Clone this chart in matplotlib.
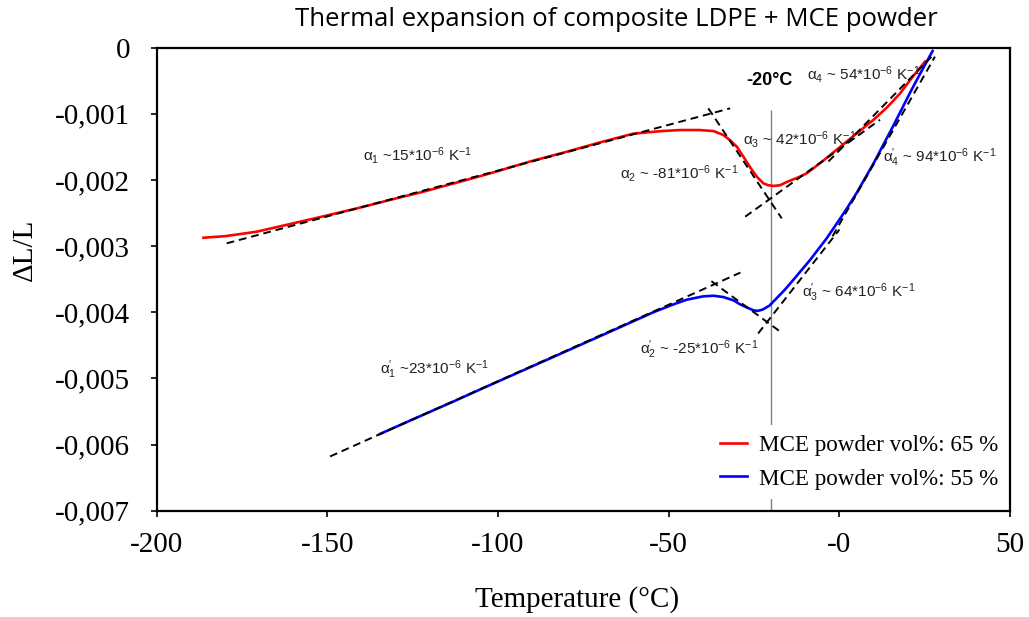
import numpy as np
import matplotlib
matplotlib.use("Agg")
import matplotlib.pyplot as plt

plt.rcParams['font.family'] = ['Liberation Serif', 'DejaVu Serif']
plt.rcParams['mathtext.fontset'] = 'custom'
plt.rcParams['mathtext.rm'] = 'Liberation Sans'
plt.rcParams['mathtext.it'] = 'Liberation Sans:italic'
plt.rcParams['mathtext.bf'] = 'Liberation Sans:bold'

# curves (y in units of 1e-3)
temp_65 = [-186.3, -180, -170.7, -160.9, -150, -141.4, -130, -121.9, -110, -102.3,
           -90.6, -80, -70, -60.4, -52, -46.7, -41, -36.9, -34, -32, -30, -28.1,
           -26, -24.2, -22.3, -20.8, -19.3, -17.4, -15.4, -12, -9.6, -5, 0.2, 5,
           10, 14, 17.8, 21, 25.1]
dl_65 = [-2.873, -2.85, -2.782, -2.666, -2.535, -2.43, -2.28, -2.177, -2.01, -1.90,
         -1.72, -1.575, -1.43, -1.30, -1.26, -1.245, -1.245, -1.26, -1.32, -1.40,
         -1.50, -1.65, -1.82, -1.95, -2.05, -2.08, -2.09, -2.08, -2.03, -1.96,
         -1.90, -1.72, -1.50, -1.30, -1.09, -0.90, -0.69, -0.47, -0.21]

temp_55 = [-134.6, -125, -113.1, -104.3, -93.6, -84, -74, -64, -54.5, -48.6, -44.7,
           -40, -36.9, -34, -31, -29.1, -27, -25.2, -24, -22.5, -20.5, -18.8, -16,
           -13.5, -8.6, -3.7, 0, 2.2, 5, 10, 15.8, 20.7, 24, 27.3]
dl_55 = [-5.84, -5.62, -5.35, -5.145, -4.90, -4.68, -4.45, -4.22, -4.00, -3.88, -3.81,
         -3.76, -3.75, -3.77, -3.82, -3.88, -3.93, -3.97, -3.98, -3.96, -3.90, -3.81,
         -3.66, -3.51, -3.21, -2.88, -2.60, -2.43, -2.20, -1.75, -1.18, -0.68, -0.36,
         -0.05]

# tangent segments: (x0, y0, x1, y1), y in 1e-3
tangents = [
    (-179.5, -2.958, -32.0, -0.917),
    (-38.4, -0.917, -16.9, -2.58),
    (-27.6, -2.555, 11.9, -1.09),
    (-3.2, -1.72, 27.5, -0.11),
    (-149.2, -6.18, -29.0, -3.40),
    (-37.5, -3.53, -17.4, -4.29),
    (-23.8, -4.32, 0.0, -2.75),
    (-2.0, -2.85, 28.0, -0.135),
]

labels_alpha = [
    (-139.5, -1.625, "α$_1$ ~15*10$^{-6}$ K$^{-1}$"),
    (-64.3, -1.90, "α$_2$ ~ -81*10$^{-6}$ K$^{-1}$"),
    (-28.1, -1.395, "α$_3$ ~ 42*10$^{-6}$ K$^{-1}$"),
    (-9.5, -0.40, "α$_4$ ~ 54*10$^{-6}$ K$^{-1}$"),
    (12.9, -1.67, "α$_4^{\\prime}$ ~ 94*10$^{-6}$ K$^{-1}$"),
    (-11.0, -3.71, "α$_3^{\\prime}$ ~ 64*10$^{-6}$ K$^{-1}$"),
    (-58.4, -4.57, "α$_2^{\\prime}$ ~ -25*10$^{-6}$ K$^{-1}$"),
    (-134.5, -4.875, "α$_1^{\\prime}$ ~23*10$^{-6}$ K$^{-1}$"),
]

x_ticks = [-200, -150, -100, -50, 0, 50]
x_ticklabels = ['-200', '-150', '-100', '-50', '-0', '50']
y_ticks = [0, -1, -2, -3, -4, -5, -6, -7]
y_ticklabels = ['0', '-0,001', '-0,002', '-0,003', '-0,004', '-0,005', '-0,006', '-0,007']

fig = plt.figure(figsize=(10.29, 6.17), dpi=100)
ax = fig.add_axes([0.1523, 0.1723, 0.8293, 0.7504])

ax.vlines(-20, -7e-3, -0.94e-3, color='#808080', lw=1, zorder=1)

for x0, y0, x1, y1 in tangents:
    ax.plot([x0, x1], [y0 * 1e-3, y1 * 1e-3], color='black', lw=1.4,
            linestyle=(0, (4, 2.5)), zorder=3)

ax.plot(temp_65, np.array(dl_65) * 1e-3, color='#ff0000', lw=1.9, zorder=2,
        label='MCE powder vol%: 65 %')
ax.plot(temp_55, np.array(dl_55) * 1e-3, color='#0000ff', lw=1.9, zorder=2,
        label='MCE powder vol%: 55 %')

for x, y, s in labels_alpha:
    ax.text(x, y * 1e-3, s, family='Liberation Sans', fontsize=11,
            ha='left', va='center', color='#222222')
ax.text(-27.2, -0.49e-3, '-20°C', family='Liberation Sans', fontsize=13,
        fontweight='bold', ha='left', va='center')

ax.set_xlim(-200, 50)
ax.set_ylim(-7e-3, 0)
ax.set_xticks(x_ticks)
ax.set_xticklabels(x_ticklabels)
ax.set_yticks(np.array(y_ticks) * 1e-3)
ax.set_yticklabels(y_ticklabels)
ax.tick_params(axis='both', labelsize=21, length=4, width=1.2, direction='out')
ax.tick_params(axis='y', pad=15)
ax.tick_params(axis='x', pad=11)
for sp in ax.spines.values():
    sp.set_linewidth(1.6)

leg = ax.legend(loc='center left', bbox_to_anchor=(0.6496, 0.105), fontsize=16.6,
                handlelength=1.15, handletextpad=0.55, labelspacing=0.55,
                borderpad=0.4, borderaxespad=0, frameon=True, fancybox=False,
                framealpha=1, edgecolor='none')

fig.text(616 / 1029, 1 - 20 / 617, 'Thermal expansion of composite LDPE + MCE powder',
         family='Open Sans', fontsize=18.5, ha='center', va='center')
fig.text(25 / 1029, 1 - 250 / 617, 'ΔL/L', rotation=90, fontsize=21,
         ha='center', va='center')
fig.text(577 / 1029, 1 - 600 / 617, 'Temperature (°C)', fontsize=21,
         ha='center', va='center')

fig.savefig('out.png', dpi=100)
